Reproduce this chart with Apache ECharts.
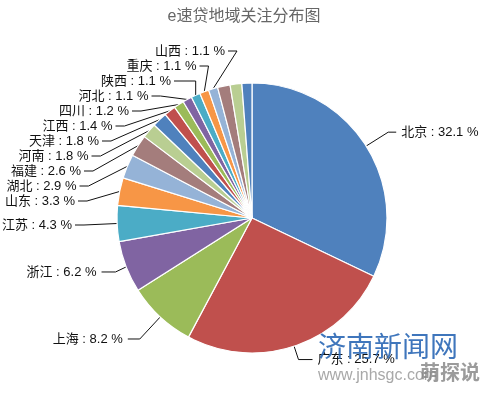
<!DOCTYPE html>
<html>
<head>
<meta charset="utf-8">
<script src="https://cdn.jsdelivr.net/npm/echarts@6/dist/echarts.min.js"></script>
<style>html,body{margin:0;padding:0;background:#fff;}#c{width:488px;height:397px;}</style>
</head>
<body>
<div id="c"></div>
<script>
const titleText = 'e速贷地域关注分布图';
const categories = ['北京','广东','上海','浙江','江苏','山东','湖北','福建','河南','天津','江西','四川','河北','陕西','重庆','山西','','',''];
const values = [32.1,25.7,8.2,6.2,4.3,3.3,2.9,2.6,1.8,1.8,1.4,1.2,1.1,1.1,1.1,1.1,1.5,1.4,1.2];
const labeled = [true,true,true,true,true,true,true,true,true,true,true,true,true,true,true,true,false,false,false];
const palette = ['#4F81BD','#C0504D','#9BBB59','#8064A2','#4BACC6','#F79646','#95B3D7','#A47D7C','#B9CE92'];

// label stacking rule for the crowded small slices on the upper-left
const STACK_FIRST = 4, STACK_LAST = 15;
function stackPos(i) {
  if (i === STACK_FIRST) return { x: 72, y: 225 };
  const k = i - (STACK_FIRST + 1);
  return { x: 75 + 1.5 * k * k, y: 201 - 15 * k };
}

const chart = echarts.init(document.getElementById('c'));
const lineOverride = { 0: { length: 26, length2: 8 }, 2: { length: 30, length2: 12 } };
const data = categories.map((n, i) => ({
  name: n,
  value: values[i],
  itemStyle: { color: palette[i % palette.length] },
  label: { show: labeled[i] },
  labelLine: Object.assign({ show: labeled[i] }, lineOverride[i] || {})
}));
chart.setOption({
  animation: false,
  title: {
    text: titleText, left: 'center', top: 4,
    textStyle: { color: '#666', fontSize: 16, fontWeight: 'normal', fontFamily: 'Liberation Sans, Noto Sans CJK SC' }
  },
  series: [{
    type: 'pie',
    center: [252, 218],
    radius: 135,
    startAngle: 90,
    clockwise: true,
    avoidLabelOverlap: true,
    itemStyle: { borderColor: '#fff', borderWidth: 1.2 },
    label: {
      formatter: p => p.name + ' : ' + p.value + ' %',
      overflow: 'none',
      color: '#111', fontSize: 13, fontFamily: 'Liberation Sans, Noto Sans CJK SC'
    },
    labelLine: { length: 14, length2: 14, lineStyle: { color: '#111', width: 1 } },
    labelLayout: function (params) {
      const i = params.dataIndex;
      if (i < STACK_FIRST || i > STACK_LAST || !params.labelLinePoints) return {};
      const p = stackPos(i);
      const edge = params.labelLinePoints[0];
      const bend = edge[0] > p.x + 16 && edge[1] > p.y + 12
        ? [edge[0], p.y]
        : [p.x + 12, p.y];
      return {
        x: p.x, y: p.y, align: 'right', verticalAlign: 'middle',
        labelLinePoints: [[edge[0], edge[1]], bend, [p.x + 3, p.y]]
      };
    },
    data: data
  }],
  graphic: [
    { type: 'text', left: 318, top: 332, z: 100, style: { text: '济南新闻网', fill: '#2a67b5', font: '28px Noto Sans CJK SC', opacity: 0.9 } },
    { type: 'text', left: 318, top: 368, z: 100, style: { text: 'www.jnhsgc.com', fill: '#999', font: '16px Liberation Sans', opacity: 0.85 } },
    { type: 'text', left: 420, top: 362, z: 100, style: { text: '萌探说', fill: '#8a8a8a', font: 'bold 20px Noto Sans CJK SC', opacity: 0.85 } }
  ]
});
</script>
</body>
</html>
